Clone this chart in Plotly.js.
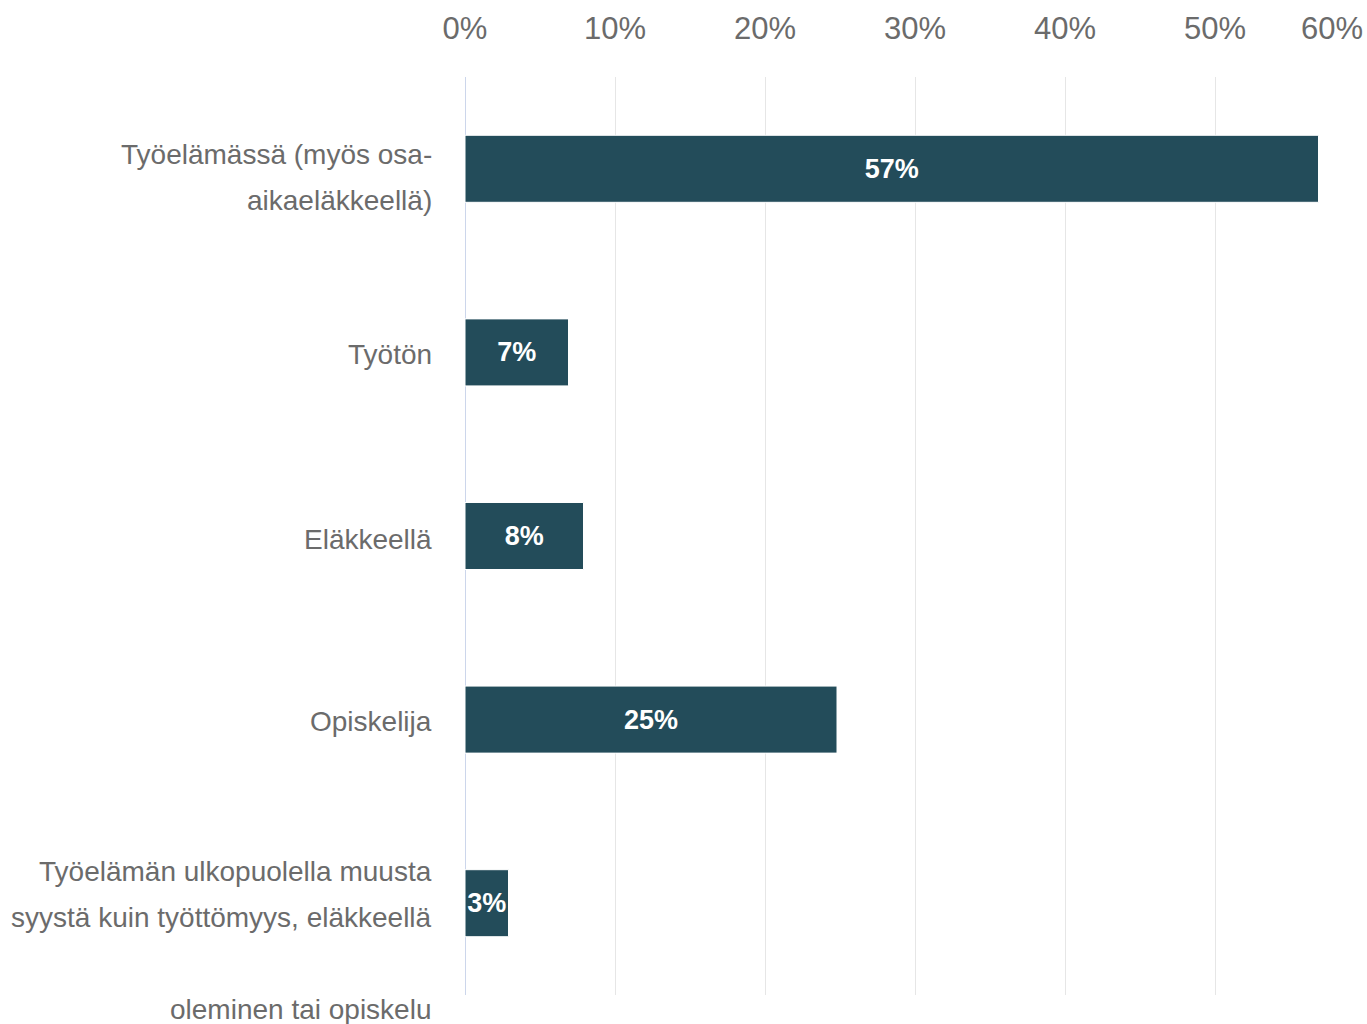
<!DOCTYPE html>
<html>
<head>
<meta charset="utf-8">
<script src="https://cdn.plot.ly/plotly-3.0.1.min.js"></script>
<style>html,body{margin:0;padding:0;background:#fff;}#chart{width:1367px;height:1024px;}</style>
</head>
<body>
<div id="chart"></div>
<script>
// ---- data ----
const categories = [
  "Työelämässä (myös osa-aikaeläkkeellä)",
  "Työtön",
  "Eläkkeellä",
  "Opiskelija",
  "Työelämän ulkopuolella muusta syystä kuin työttömyys, eläkkeellä oleminen tai opiskelu"
];
const labelLines = [
  ["Työelämässä (myös osa-", "aikaeläkkeellä)"],
  ["Työtön"],
  ["Eläkkeellä"],
  ["Opiskelija"],
  ["Työelämän ulkopuolella muusta", "syystä kuin työttömyys, eläkkeellä", "", "oleminen tai opiskelu"]
];
const shares = [56.9, 6.9, 7.9, 24.8, 2.9];
const tickValues = [0, 10, 20, 30, 40, 50, 60];
const tickLabels = ["0%", "10%", "20%", "30%", "40%", "50%", "60%"];

// ---- style / layout constants ----
const FONT = '"Liberation Sans", Arial, Helvetica, sans-serif';
const TEXT_COLOR = '#6b6b6b';
const LINE_GAP = 46;
const labelAdjust = [9, 2, 3, 1.5, 37.5];

const annotations = [];
labelLines.forEach((lines, c) => {
  const n = lines.length;
  lines.forEach((txt, i) => {
    if (!txt) return;
    const off = (i - (n - 1) / 2) * LINE_GAP + labelAdjust[c];
    annotations.push({
      x: 0, xref: 'paper', xanchor: 'right', xshift: -31,
      y: categories[c], yref: 'y', yanchor: 'middle', yshift: -off,
      text: txt, showarrow: false,
      font: {family: FONT, size: 28, color: TEXT_COLOR}
    });
  });
});
// last tick label justified inside the canvas
annotations.push({
  x: tickValues[tickValues.length - 1], xref: 'x', xanchor: 'right', xshift: 0,
  y: 1, yref: 'paper', yanchor: 'middle', yshift: 49,
  text: tickLabels[tickLabels.length - 1], showarrow: false,
  font: {family: FONT, size: 31, color: TEXT_COLOR}
});

const trace = {
  type: 'bar', orientation: 'h',
  x: shares, y: categories,
  width: 0.365,
  marker: {color: '#234c5a', line: {color: '#ffffff', width: 1}},
  texttemplate: '%{x:.0f}%',
  textposition: 'inside', insidetextanchor: 'middle', textangle: 0,
  constraintext: 'none', cliponaxis: false,
  textfont: {family: FONT, size: 27, color: '#ffffff', weight: 'bold'},
  hoverinfo: 'skip'
};

const layout = {
  width: 1367, height: 1024,
  margin: {l: 465, r: 2, t: 77, b: 29, pad: 0},
  paper_bgcolor: '#ffffff', plot_bgcolor: '#ffffff',
  showlegend: false,
  font: {family: FONT, color: TEXT_COLOR},
  xaxis: {
    side: 'top', range: [0, 60], fixedrange: true,
    tickvals: tickValues,
    ticktext: tickLabels.map((t, i) => i === tickLabels.length - 1 ? '' : t),
    ticks: '', ticklabelstandoff: 31,
    tickfont: {family: FONT, size: 31, color: TEXT_COLOR},
    showgrid: true, gridcolor: '#e6e6e6', gridwidth: 1,
    zeroline: true, zerolinecolor: '#ccd6eb', zerolinewidth: 1,
    showline: false
  },
  yaxis: {
    type: 'category', autorange: 'reversed', fixedrange: true,
    showticklabels: false, ticks: '', showgrid: false, zeroline: false, showline: false
  },
  annotations: annotations
};

Plotly.newPlot('chart', [trace], layout, {displayModeBar: false, staticPlot: true});
</script>
</body>
</html>
